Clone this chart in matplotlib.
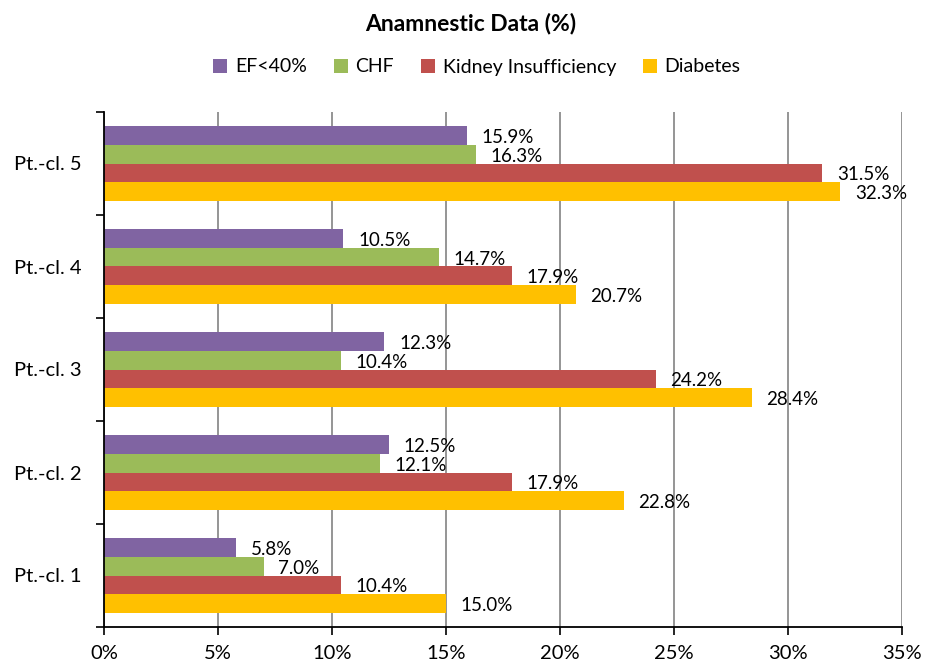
import matplotlib
matplotlib.use("Agg")
import matplotlib.pyplot as plt
import numpy as np

categories = ["Pt.-cl. 1", "Pt.-cl. 2", "Pt.-cl. 3", "Pt.-cl. 4", "Pt.-cl. 5"]
series_names = ["EF<40%", "CHF", "Kidney Insufficiency", "Diabetes"]
ef40 = [5.8, 12.5, 12.3, 10.5, 15.9]
chf = [7.0, 12.1, 10.4, 14.7, 16.3]
kidney = [10.4, 17.9, 24.2, 17.9, 31.5]
diabetes = [15.0, 22.8, 28.4, 20.7, 32.3]
xticks = [0, 5, 10, 15, 20, 25, 30, 35]
colors = ["#8064A2", "#9BBB59", "#C0504D", "#FFC000"]

plt.rcParams['font.family'] = ['Lato', 'DejaVu Sans']

fig = plt.figure(figsize=(9.35, 6.68), dpi=100)
ax = fig.add_axes([104/935, 1 - 627/668, (902-104)/935, (627-112)/668])

series = [ef40, chf, kidney, diabetes]
y = np.arange(len(categories))
bh = 0.18
for i, (vals, name, c) in enumerate(zip(series, series_names, colors)):
    pos = y + (1.5 - i) * bh
    bars = ax.barh(pos, vals, height=bh, color=c, label=name, zorder=3)
    for b, v in zip(bars, vals):
        ax.annotate(f"{v:.1f}%", (v, b.get_y() + b.get_height()/2),
                    xytext=(10.5, -1.5), textcoords="offset points",
                    va="center", ha="left", fontsize=13.5, zorder=4)

ax.set_xlim(0, 35)
ax.set_ylim(-0.5, len(categories) - 0.5)
ax.set_xticks(xticks)
ax.set_xticklabels([f"{t}%" for t in xticks], fontsize=14.5)
ax.set_yticks(y)
ax.set_yticklabels(categories, fontsize=14.5)
ax.tick_params(axis='y', length=0, pad=16)
ax.set_yticks(np.arange(-0.5, len(categories)), minor=True)
ax.tick_params(axis='y', which='minor', length=6, width=1.2, color='black')
ax.tick_params(axis='x', length=6, width=1.2, color='black', pad=7)
ax.grid(axis='x', color='#8c8c8c', linewidth=1.3, zorder=0)
ax.set_axisbelow(True)
for s in ['top', 'right']:
    ax.spines[s].set_visible(False)
for s in ['left', 'bottom']:
    ax.spines[s].set_linewidth(1.3)
    ax.spines[s].set_color('black')
    ax.spines[s].set_zorder(5)

fig.text(471/935, 1 - 23/668, "Anamnestic Data (%)", ha='center', va='center',
         fontsize=16.5, fontweight='bold')
handles, labels = ax.get_legend_handles_labels()
fig.legend(handles, labels, loc='center', bbox_to_anchor=(477/935, 1 - 67/668),
           ncol=4, frameon=False, fontsize=14, handlelength=0.7, handleheight=0.7,
           handletextpad=0.4, columnspacing=1.4)

fig.savefig("out.png", dpi=100)
